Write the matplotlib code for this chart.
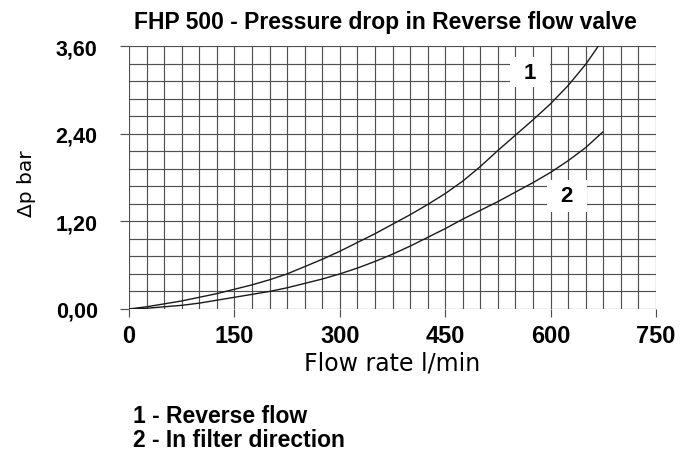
import matplotlib.pyplot as plt
import matplotlib.patches as patches
import numpy as np

# flow rate (l/min) and pressure drop (bar)
flow_1 = [0, 25, 50, 75, 100, 125, 150, 175, 200, 225, 250, 275, 300, 325, 350, 375,
          400, 425, 450, 475, 500, 525, 550, 575, 600, 625, 650, 668]
dp_1 = [0, 0.03, 0.07, 0.11, 0.16, 0.21, 0.27, 0.33, 0.40, 0.48, 0.58, 0.68, 0.79, 0.91, 1.03, 1.16,
        1.29, 1.43, 1.58, 1.75, 1.95, 2.17, 2.38, 2.59, 2.81, 3.06, 3.35, 3.60]

flow_2 = [0, 25, 50, 75, 100, 125, 150, 175, 200, 225, 250, 275, 300, 325, 350, 375,
          400, 425, 450, 475, 500, 525, 550, 575, 600, 625, 650, 674]
dp_2 = [0, 0.01, 0.03, 0.05, 0.08, 0.12, 0.16, 0.20, 0.24, 0.29, 0.35, 0.41, 0.48, 0.56, 0.65, 0.75,
        0.86, 0.98, 1.10, 1.23, 1.35, 1.47, 1.60, 1.73, 1.87, 2.03, 2.21, 2.42]

x_ticks = [0, 150, 300, 450, 600, 750]
y_ticks = [0.0, 1.2, 2.4, 3.6]
y_tick_labels = ['0,00', '1,20', '2,40', '3,60']

bold_font = 'Liberation Sans'
grid_col = '#505050'

fig = plt.figure(figsize=(6.95, 4.52), dpi=100)
ax = fig.add_axes([0.1856, 0.3142, 0.7583, 0.5818])

# fine grid: 25 l/min by 0.24 bar
for xv in np.arange(0, 751, 25):
    ax.axvline(xv, color=grid_col, linewidth=0.85, zorder=1)
for yv in np.arange(0, 3.61, 0.24):
    ax.axhline(yv, color=grid_col, linewidth=0.85, zorder=1)

ax.plot(flow_1, dp_1, color='#1a1a1a', linewidth=1.0, zorder=3)
ax.plot(flow_2, dp_2, color='#1a1a1a', linewidth=1.0, zorder=3)

# white label boxes for the curve numbers
ax.add_patch(patches.Rectangle((542, 3.04), 57, 0.41, facecolor='white', edgecolor='none', zorder=4))
ax.add_patch(patches.Rectangle((595, 1.33), 57, 0.44, facecolor='white', edgecolor='none', zorder=4))
ax.text(570.5, 3.24, '1', fontsize=16, fontweight='bold', family=bold_font, ha='center', va='center', zorder=5)
ax.text(623, 1.55, '2', fontsize=16, fontweight='bold', family=bold_font, ha='center', va='center', zorder=5)

ax.set_xlim(0, 750)
ax.set_ylim(0, 3.6)
for s in ax.spines.values():
    s.set_visible(False)

ax.set_xticks(x_ticks)
ax.set_xticklabels([str(v) for v in x_ticks], fontsize=17, fontweight='bold', family=bold_font)
ax.set_yticks(y_ticks)
ax.set_yticklabels(y_tick_labels, fontsize=15.5, fontweight='bold', family=bold_font)
ax.tick_params(axis='x', length=6, width=0.85, color=grid_col, pad=5)
ax.tick_params(axis='y', length=6.5, width=0.85, color=grid_col, pad=16)

ax.set_xlabel('Flow rate l/min', fontsize=17, family='DejaVu Sans', labelpad=2)
ax.set_ylabel('\u0394p bar', fontsize=14.5, family='DejaVu Sans')
ax.yaxis.set_label_coords(-0.176, 0.48)

fig.text(0.555, 0.951, 'FHP 500 - Pressure drop in Reverse flow valve', fontsize=16.5, fontweight='bold',
         family=bold_font, ha='center', va='center')

fig.text(0.191, 0.079, '1 - Reverse flow', fontsize=16.5, fontweight='bold', family=bold_font, va='center')
fig.text(0.191, 0.026, '2 - In filter direction', fontsize=16.5, fontweight='bold', family=bold_font, va='center')

plt.savefig('out.png', dpi=100)
plt.close()
